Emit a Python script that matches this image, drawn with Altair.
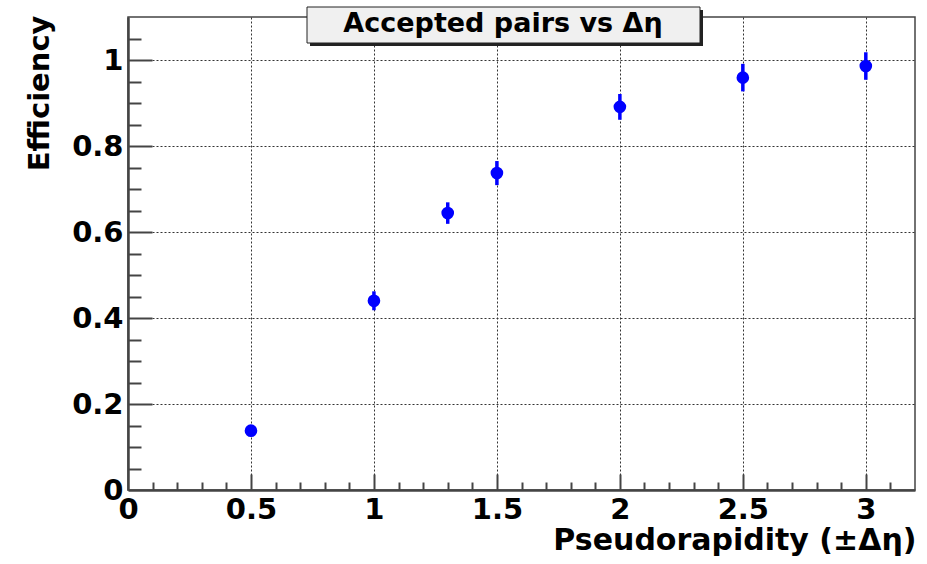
import altair as alt
import pandas as pd

# ---- data ----
eta = [0.5, 1.0, 1.3, 1.5, 2.0, 2.5, 3.0]
eff = [0.138, 0.440, 0.644, 0.737, 0.891, 0.959, 0.986]
err = [0.008, 0.022, 0.025, 0.028, 0.030, 0.032, 0.032]

x_labels = [0, 0.5, 1.0, 1.5, 2.0, 2.5, 3.0]
x_major = [0.5, 1.0, 1.5, 2.0, 2.5, 3.0]
x_minor = [0.1, 0.2, 0.3, 0.4, 0.6, 0.7, 0.8, 0.9, 1.1, 1.2, 1.3, 1.4,
           1.6, 1.7, 1.8, 1.9, 2.1, 2.2, 2.3, 2.4, 2.6, 2.7, 2.8, 2.9, 3.1]
y_labels = [0, 0.2, 0.4, 0.6, 0.8, 1.0]
y_major = [0.2, 0.4, 0.6, 0.8, 1.0]
y_minor = [0.05, 0.1, 0.15, 0.25, 0.3, 0.35, 0.45, 0.5, 0.55, 0.65, 0.7,
           0.75, 0.85, 0.9, 0.95, 1.05]

title_text = ["Accepted pairs vs  \u0394\u03b7"]

df = pd.DataFrame({"eta": eta, "eff": eff, "err": err})
df["lo"] = df["eff"] - df["err"]
df["hi"] = df["eff"] + df["err"]

W, H = 787, 473
FONT = "DejaVu Sans"
AX = "#444444"

xs = alt.Scale(domain=[0, 3.2], nice=False, zero=False)
ys = alt.Scale(domain=[0, 1.1], nice=False, zero=False)

base = alt.Chart(df)


def plain_axis(orient, values, **kw):
    return alt.Axis(orient=orient, values=values, labels=False, title=None,
                    domain=False, **kw)


# grid layer
grid = base.mark_point(opacity=0, size=1).encode(
    x=alt.X("eta:Q", scale=xs, axis=plain_axis(
        "bottom", x_major, ticks=False, grid=True, gridDash=[2, 2],
        gridColor="#333333", gridWidth=1)),
    y=alt.Y("eff:Q", scale=ys, axis=plain_axis(
        "left", y_major, ticks=False, grid=True, gridDash=[2, 2],
        gridColor="#333333", gridWidth=1)),
)

# inward major ticks
major = base.mark_point(opacity=0, size=1).encode(
    x=alt.X("eta:Q", scale=xs, axis=plain_axis(
        "bottom", x_major, ticks=True, tickSize=16, offset=-16,
        tickColor=AX, tickWidth=2, grid=False)),
    y=alt.Y("eff:Q", scale=ys, axis=plain_axis(
        "left", y_major, ticks=True, tickSize=24, offset=-24,
        tickColor=AX, tickWidth=2, grid=False)),
)

# inward minor ticks
minor = base.mark_point(opacity=0, size=1).encode(
    x=alt.X("eta:Q", scale=xs, axis=plain_axis(
        "bottom", x_minor, ticks=True, tickSize=8, offset=-8,
        tickColor=AX, tickWidth=2, grid=False)),
    y=alt.Y("eff:Q", scale=ys, axis=plain_axis(
        "left", y_minor, ticks=True, tickSize=13, offset=-13,
        tickColor=AX, tickWidth=2, grid=False)),
)

# error bars with main labelled axes
bars = base.mark_rule(color="#0000ff", strokeWidth=3.5).encode(
    x=alt.X("eta:Q", scale=xs, axis=alt.Axis(
        orient="bottom", values=x_labels, format="~g", grid=False,
        ticks=False, domain=True, domainColor=AX, domainWidth=2.5,
        labelFont=FONT, labelFontWeight="bold", labelFontSize=29,
        labelColor="black", labelPadding=5, labelFlush=False,
        labelOverlap=False,
        title="Pseudorapidity (\u00b1\u0394\u03b7)", titleFont=FONT,
        titleFontWeight="bold", titleFontSize=30, titleColor="black",
        titleAlign="right", titleAnchor="end", titleBaseline="alphabetic",
        titleX=W + 1, titleY=59)),
    y=alt.Y("lo:Q", scale=ys, axis=alt.Axis(
        orient="left", values=y_labels, format="~g", grid=False,
        ticks=False, domain=True, domainColor=AX, domainWidth=2.5,
        labelFont=FONT, labelFontWeight="bold", labelFontSize=29,
        labelColor="black", labelPadding=5, labelFlush=False,
        labelOverlap=False,
        title="Efficiency", titleFont=FONT, titleFontWeight="bold",
        titleFontSize=29, titleColor="black", titleAngle=-90,
        titleAlign="right", titleAnchor="end", titleBaseline="alphabetic",
        titleX=-80, titleY=-2)),
    y2="hi:Q",
)

points = base.mark_circle(color="#0000ff", opacity=1, size=160).encode(
    x=alt.X("eta:Q", scale=xs, axis=None),
    y=alt.Y("eff:Q", scale=ys, axis=None),
)

tdf = pd.DataFrame({"t": title_text})
tbase = alt.Chart(tdf)
shadow = tbase.mark_rect(color="#222222").encode(
    x=alt.value(182), x2=alt.value(575), y=alt.value(-7), y2=alt.value(29))
box = tbase.mark_rect(fill="#f0f0f0", stroke="#222222", strokeWidth=1).encode(
    x=alt.value(179), x2=alt.value(572), y=alt.value(-10), y2=alt.value(26))
ttext = tbase.mark_text(font=FONT, fontWeight="bold", fontSize=27,
                        color="black", align="center",
                        baseline="alphabetic").encode(
    x=alt.value(375), y=alt.value(15), text="t:N")

chart = alt.layer(grid, major, minor, bars, points, shadow, box, ttext).resolve_axis(
    x="independent", y="independent"
).properties(
    width=W, height=H,
    autosize=alt.AutoSizeParams(type="none"),
    padding={"left": 128, "top": 17, "right": 12, "bottom": 74},
    background="white",
).configure_view(stroke=AX, strokeWidth=1.5)

chart.save("out.html", embed_options={"renderer": "svg", "actions": False})
